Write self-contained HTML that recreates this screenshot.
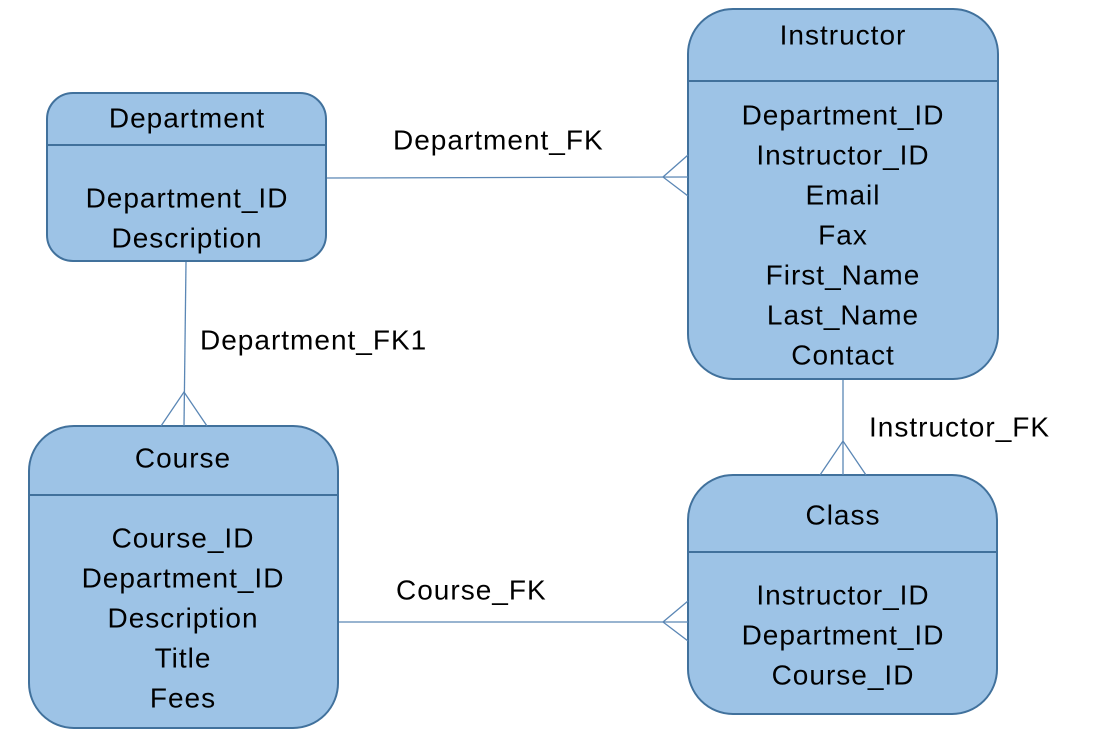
<!DOCTYPE html>
<html><head><meta charset="utf-8"><style>
html,body{margin:0;padding:0;background:#fff;}
svg text{font-family:"Liberation Sans",sans-serif;font-size:28px;letter-spacing:1px;fill:#000;}
</style></head><body>
<svg width="1096" height="740" viewBox="0 0 1096 740" xmlns="http://www.w3.org/2000/svg">
<g fill="#9dc3e6" stroke="#41719c" stroke-width="2">
<rect x="47" y="93" width="279" height="168" rx="26"/>
<rect x="688" y="9" width="310" height="370" rx="45"/>
<rect x="29" y="426" width="309" height="302" rx="45"/>
<rect x="688" y="475" width="309" height="239" rx="45"/>
</g>
<g stroke="#41719c" stroke-width="2">
<line x1="47" y1="145" x2="326" y2="145"/>
<line x1="688" y1="81" x2="998" y2="81"/>
<line x1="29" y1="495" x2="338" y2="495"/>
<line x1="688" y1="552" x2="997" y2="552"/>
</g>
<g stroke="#5b87b5" stroke-width="1.3" fill="none">
<line x1="327" y1="178" x2="688" y2="177"/>
<polyline points="688,155 663,177 688,196"/>
<line x1="186" y1="262" x2="184" y2="426"/>
<polyline points="161,426 184,392 207,426"/>
<line x1="843" y1="380" x2="843" y2="475"/>
<polyline points="820,475 843,441 866,475"/>
<line x1="339" y1="622" x2="688" y2="622"/>
<polyline points="688,601 663,622 688,641"/>
</g>
<g text-anchor="middle" dominant-baseline="central">
<text x="187" y="118">Department</text>
<text x="187" y="198">Department_ID</text>
<text x="187" y="238">Description</text>
<text x="843" y="35">Instructor</text>
<text x="843" y="115">Department_ID</text>
<text x="843" y="155">Instructor_ID</text>
<text x="843" y="195">Email</text>
<text x="843" y="235">Fax</text>
<text x="843" y="275">First_Name</text>
<text x="843" y="315">Last_Name</text>
<text x="843" y="355">Contact</text>
<text x="183" y="458">Course</text>
<text x="183" y="538">Course_ID</text>
<text x="183" y="578">Department_ID</text>
<text x="183" y="618">Description</text>
<text x="183" y="658">Title</text>
<text x="183" y="698">Fees</text>
<text x="843" y="515">Class</text>
<text x="843" y="595">Instructor_ID</text>
<text x="843" y="635">Department_ID</text>
<text x="843" y="675">Course_ID</text>
</g>
<g dominant-baseline="central">
<text x="393" y="140">Department_FK</text>
<text x="200" y="340">Department_FK1</text>
<text x="869" y="427">Instructor_FK</text>
<text x="396" y="590">Course_FK</text>
</g>
</svg>
</body></html>
